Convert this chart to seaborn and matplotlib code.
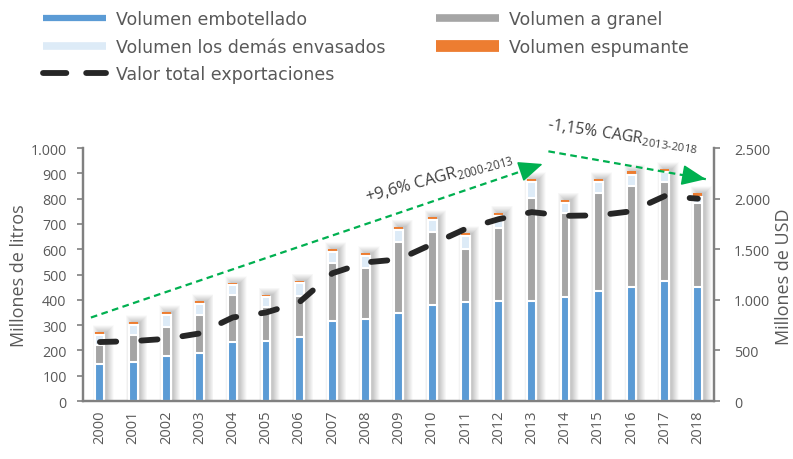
import numpy as np
import matplotlib
matplotlib.use("Agg")
import matplotlib.pyplot as plt
from matplotlib.lines import Line2D
from matplotlib.ticker import FuncFormatter
import seaborn as sns

# ---------------------- Data ---------------------- #

years = list(range(2000, 2019))

# volumes, millions of litres (left axis)
embotellado = [145, 154, 178, 191, 232, 237, 253, 318, 324, 349,
               379, 393, 395, 396, 413, 435, 451, 474, 451]
granel = [78, 106, 115, 148, 186, 135, 163, 226, 202, 281,
          290, 207, 287, 405, 329, 386, 400, 393, 332]
demas_envasados = [37, 42, 46, 44, 40, 40, 49, 44, 49, 47,
                   47, 51, 51, 64, 41, 44, 43, 38, 25]
espumante = [12, 10, 12, 12, 9, 9, 11, 13, 10, 12,
             12, 12, 11, 12, 13, 12, 14, 12, 14]

# total export value, millions of USD (right axis)
valor_total = [583, 592, 615, 668, 826, 875, 975, 1263, 1370, 1400,
               1550, 1700, 1797, 1867, 1830, 1835, 1875, 2025, 2000]

# CAGR annotations
cagr_labels = ["+9,6% CAGR$_{\\text{2000-2013}}$", "-1,15% CAGR$_{\\text{2013-2018}}$"]
cagr_from = [(1999.73, 330), (2013.5, 987)]
cagr_to = [(2013.33, 937), (2018.24, 877)]
cagr_text_at = [(2010.2, 888), (2015.73, 1051)]
cagr_angle = [15.5, -8.5]

legend_left = ["Volumen embotellado", "Volumen los demás envasados", "Valor total exportaciones"]
legend_right = ["Volumen a granel", "Volumen espumante"]

# ---------------------- Style ---------------------- #

BLUE = "#5B9BD5"
GRAY = "#A5A5A5"
LIGHT = "#DDEBF7"
ORANGE = "#ED7D31"
BLACK = "#262626"
GREEN = "#00B050"
TEXT = "#595959"
SPINE = "#808080"
BAR_W = 0.27

sns.set_theme(style="white")
plt.rcParams["font.family"] = ["Open Sans", "DejaVu Sans"]
plt.rcParams["mathtext.fontset"] = "custom"
plt.rcParams["mathtext.rm"] = "Open Sans"


def thousands(v, _):
    return f"{int(round(v)):,}".replace(",", ".")


def draw_bars(ax):
    emb = np.array(embotellado)
    tot2 = emb + np.array(granel)
    tot3 = tot2 + np.array(demas_envasados)
    tot4 = tot3 + np.array(espumante)
    x = np.array(years)

    # soft drop shadow behind each stack (many faint layers = blur)
    for k in range(14):
        ax.bar(x + 0.1, tot4 + 1 + 2.0 * k, width=BAR_W - 0.02 + 0.03 * k,
               color="black", alpha=0.016, linewidth=0, zorder=1)

    # cumulative bars drawn top-down so each segment sits on the previous
    sns.barplot(x=years, y=tot4, native_scale=True, color=ORANGE, saturation=1,
                width=BAR_W, errorbar=None, linewidth=0, ax=ax, zorder=3)
    for heights, col in [(tot3, LIGHT), (tot2, GRAY), (emb, BLUE)]:
        sns.barplot(x=years, y=heights, native_scale=True, color=col, saturation=1,
                    width=BAR_W, errorbar=None, edgecolor="white", linewidth=1.5,
                    ax=ax, zorder=3)


def main():
    fig = plt.figure(figsize=(7.93, 4.6), dpi=100)
    ax = fig.add_axes([0.105, 0.126, 0.796, 0.55])

    draw_bars(ax)

    ax.set_xlim(1999.5, 2018.5)
    ax.set_ylim(0, 1000)
    ax.set_xticks(years)
    ax.set_xticklabels([str(y) for y in years], rotation=90)
    ax.set_yticks(range(0, 1001, 100))
    ax.yaxis.set_major_formatter(FuncFormatter(thousands))
    ax.set_xlabel("")
    ax.set_ylabel("")
    ax.tick_params(axis="x", length=0, pad=6, labelsize=10.5, labelcolor=TEXT)
    ax.tick_params(axis="y", left=True, direction="out", length=4, width=1.2,
                   color=SPINE, pad=8, labelsize=10.3, labelcolor=TEXT)

    # value line on secondary axis
    ax2 = ax.twinx()
    sns.lineplot(x=years, y=valor_total, ax=ax2, color=BLACK, linewidth=4.2)
    line = ax2.lines[-1]
    line.set_dashes((2.8, 4.3))
    line.set_dash_capstyle("round")
    ax2.set_ylim(0, 2500)
    ax2.set_yticks(range(0, 2501, 500))
    ax2.yaxis.set_major_formatter(FuncFormatter(thousands))
    ax2.set_ylabel("")
    ax2.tick_params(axis="y", right=True, direction="out", length=4, width=1.2,
                    color=SPINE, pad=10, labelsize=10.3, labelcolor=TEXT)

    for a in (ax, ax2):
        a.spines["top"].set_visible(False)
        for side in ("left", "right", "bottom"):
            a.spines[side].set_color(SPINE)
            a.spines[side].set_linewidth(1.6)
        a.grid(False)

    # CAGR arrows: dashed shaft plus a solid head, and the rotated labels
    for lab, p0, p1, pt, ang, fs in zip(cagr_labels, cagr_from, cagr_to,
                                        cagr_text_at, cagr_angle, [12, 11.5]):
        ax.plot([p0[0], p1[0]], [p0[1], p1[1]], color=GREEN, lw=1.6,
                linestyle=(0, (3, 2)), clip_on=False, zorder=6)
        t = 0.97
        mid = (p0[0] + t * (p1[0] - p0[0]), p0[1] + t * (p1[1] - p0[1]))
        ax.annotate("", xy=p1, xytext=mid, annotation_clip=False,
                    arrowprops=dict(arrowstyle="-|>,head_length=0.75,head_width=0.32",
                                    color=GREEN, lw=1.2, mutation_scale=20,
                                    shrinkA=0, shrinkB=0),
                    zorder=6)
        ax.text(pt[0], pt[1], lab, rotation=ang, rotation_mode="anchor",
                ha="center", va="center", fontsize=fs, color="#404040", zorder=6)

    # axis titles
    fig.text(19 / 793, 1 - 276 / 460, "Millones de litros", rotation=90,
             ha="center", va="center", fontsize=13, color=TEXT)
    fig.text(784 / 793, 1 - 277 / 460, "Millones de USD", rotation=90,
             ha="center", va="center", fontsize=13, color=TEXT)

    # legend, two columns placed separately
    h_left = [Line2D([], [], color=BLUE, lw=4.5, solid_capstyle="butt"),
              Line2D([], [], color=LIGHT, lw=5.5, solid_capstyle="butt"),
              Line2D([], [], color=BLACK, lw=4.2, linestyle=(0, (4, 3.4)),
                     dash_capstyle="round")]
    h_right = [Line2D([], [], color=GRAY, lw=5.5, solid_capstyle="butt"),
               Line2D([], [], color=ORANGE, lw=8.5, solid_capstyle="butt")]
    common = dict(loc="upper left", frameon=False, borderpad=0, borderaxespad=0,
                  handlelength=3.63, handletextpad=0.58, labelspacing=0.56,
                  labelcolor=TEXT, prop={"family": "DejaVu Sans", "size": 12.5})
    fig.legend(h_left, legend_left, bbox_to_anchor=(43 / 793, 1 - 11 / 460), **common)
    fig.legend(h_right, legend_right, bbox_to_anchor=(436 / 793, 1 - 11 / 460), **common)

    fig.savefig("out.png", dpi=100)


if __name__ == "__main__":
    main()
